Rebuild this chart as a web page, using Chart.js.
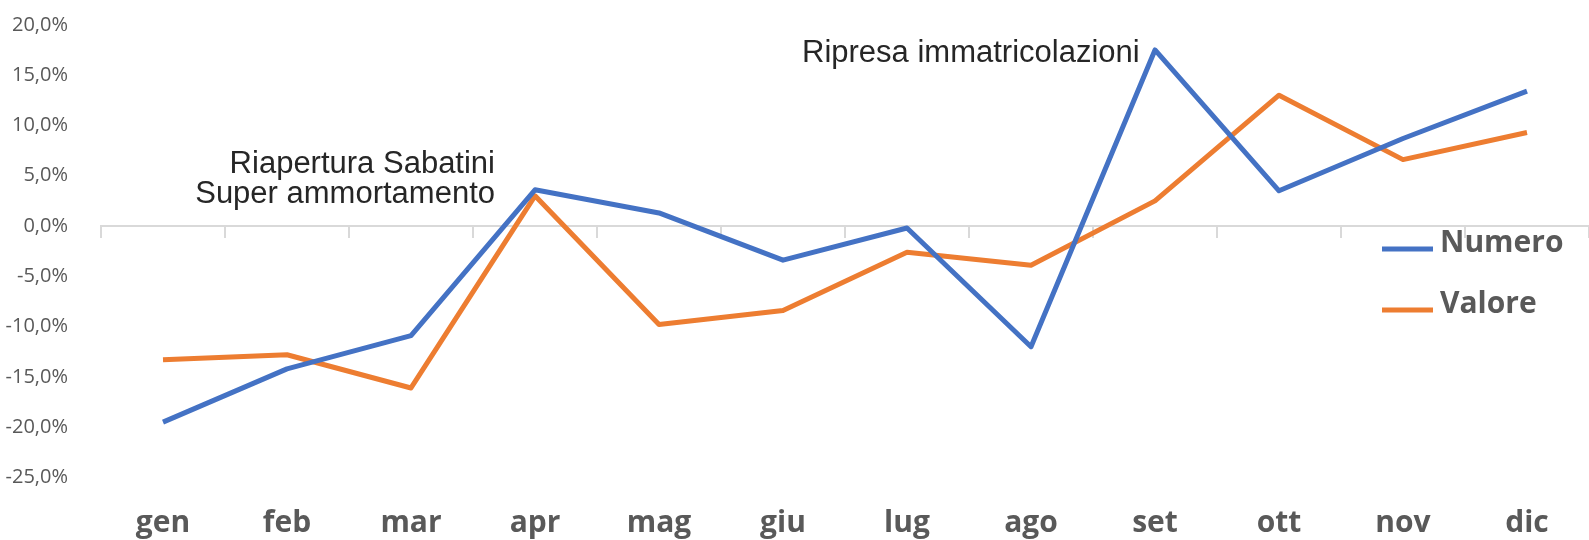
<!DOCTYPE html>
<html lang="it">
<head>
<meta charset="utf-8">
<title>Numero e valore - variazione mensile</title>
<script src="https://cdn.jsdelivr.net/npm/chart.js@4/dist/chart.umd.min.js"></script>
<style>
  html, body { margin: 0; padding: 0; background: #fff; }
  #chart { display: block; }
</style>
</head>
<body>
<canvas id="chart" width="1589" height="540"></canvas>
<script>
const months = ["gen", "feb", "mar", "apr", "mag", "giu", "lug", "ago", "set", "ott", "nov", "dic"];
const numero = [-19.5, -14.2, -10.9, 3.6, 1.3, -3.4, -0.2, -12.0, 17.5, 3.5, 8.7, 13.4];
const valore = [-13.3, -12.8, -16.1, 3.0, -9.8, -8.4, -2.6, -3.9, 2.5, 13.0, 6.6, 9.3];
const yTicks = [-25, -20, -15, -10, -5, 0, 5, 10, 15, 20];

const notes = [
  { lines: ["Riapertura Sabatini", "Super ammortamento"], x: 495, y: 173, align: "right" },
  { lines: ["Ripresa immatricolazioni"], x: 802, y: 62, align: "left" },
];

const grey = "#595959";

// legend drawn inside the plot, on the right
const sideLegend = {
  id: "sideLegend",
  afterDatasetsDraw(chart) {
    const ctx = chart.ctx;
    const rows = [249, 310];
    ctx.save();
    chart.data.datasets.forEach((ds, i) => {
      const y = rows[i];
      ctx.strokeStyle = ds.borderColor;
      ctx.lineWidth = 5;
      ctx.beginPath();
      ctx.moveTo(1382, y);
      ctx.lineTo(1433, y);
      ctx.stroke();
      ctx.fillStyle = grey;
      ctx.font = "bold 30px 'Open Sans'";
      ctx.textAlign = "left";
      ctx.textBaseline = "alphabetic";
      ctx.fillText(ds.label, 1440, y + 3);
    });
    ctx.restore();
  },
};

const annotations = {
  id: "annotations",
  afterDraw(chart) {
    const ctx = chart.ctx;
    ctx.save();
    ctx.fillStyle = "#262626";
    ctx.font = "31px 'Liberation Sans'";
    ctx.textBaseline = "alphabetic";
    for (const n of notes) {
      ctx.textAlign = n.align;
      n.lines.forEach((line, i) => {
        ctx.fillText(line, n.x, n.y + i * 30);
      });
    }
    ctx.restore();
  },
};

new Chart(document.getElementById("chart"), {
  type: "line",
  data: {
    labels: months,
    datasets: [
      { label: "Numero", data: numero, borderColor: "#4472C4" },
      { label: "Valore", data: valore, borderColor: "#ED7D31" },
    ],
  },
  options: {
    responsive: false,
    animation: false,
    devicePixelRatio: 1,
    layout: { padding: { top: 24.8, right: 0, bottom: 0, left: 0 } },
    elements: {
      line: { borderWidth: 5, tension: 0, borderJoinStyle: "round", fill: false },
      point: { radius: 0, hoverRadius: 0 },
    },
    plugins: {
      legend: { display: false },
      tooltip: { enabled: false },
    },
    scales: {
      x: {
        type: "category",
        position: "bottom",
        offset: true,
        afterFit: (scale) => {
          scale.height = 62.5;
        },
        grid: { display: false, drawTicks: false },
        border: { display: false },
        ticks: {
          color: grey,
          padding: 28,
          maxRotation: 0,
          font: { family: "'Open Sans'", size: 30, weight: "bold" },
        },
      },
      x2: {
        type: "category",
        labels: months,
        position: { y: 0 },
        offset: true,
        ticks: { display: false },
        grid: { offset: true, drawOnChartArea: false, drawTicks: true, tickLength: 11, color: "#d9d9d9", lineWidth: 2 },
        border: { display: true, color: "#d9d9d9", width: 2 },
      },
      y: {
        min: -25,
        max: 20,
        afterBuildTicks: (scale) => {
          scale.ticks = yTicks.map((v) => ({ value: v }));
        },
        afterFit: (scale) => {
          scale.width = 101;
          scale.paddingTop = 0;
          scale.paddingBottom = 0;
        },
        grid: { display: false },
        border: { display: false },
        ticks: {
          color: grey,
          padding: 25,
          font: { family: "'Open Sans'", size: 20 },
          callback: (v) => v.toFixed(1).replace(".", ",") + "%",
        },
      },
    },
  },
  plugins: [sideLegend, annotations],
});
</script>
</body>
</html>
